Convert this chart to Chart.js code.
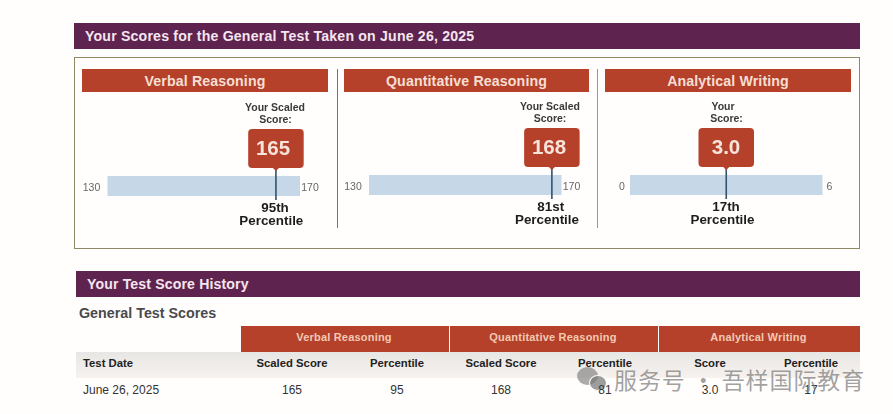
<!DOCTYPE html>
<html><head><meta charset="utf-8">
<script src="https://cdn.jsdelivr.net/npm/chart.js@4"></script>
<style>
html,body{margin:0;padding:0;background:#fffefd;overflow:hidden}
#page{position:relative;width:893px;height:414px;font-family:"Liberation Sans",Arial,sans-serif;overflow:hidden}
.b{position:absolute}
.t{position:absolute;white-space:nowrap;line-height:1}
.c{transform:translateX(-50%)}
canvas{display:block}
</style></head><body><div id="page"></div>
<script>
const pageTitle = "Your Scores for the General Test Taken on June 26, 2025";
const historyTitle = "Your Test Score History";
const tableTitle = "General Test Scores";
const sections = ["Verbal Reasoning", "Quantitative Reasoning", "Analytical Writing"];
const scaleMin = [130, 130, 0];
const scaleMax = [170, 170, 6];
const scores = [165, 168, 3.0];
const scoreText = ["165", "168", "3.0"];
const percentiles = [95, 81, 17];
const percentileText = ["95th", "81st", "17th"];
const scoreCaption = [["Your Scaled", "Score:"], ["Your Scaled", "Score:"], ["Your", "Score:"]];
const tableColumns = ["Test Date", "Scaled Score", "Percentile", "Scaled Score", "Percentile", "Score", "Percentile"];
const tableRow = ["June 26, 2025", "165", "95", "168", "81", "3.0", "17"];
const watermark = "服务号 · 吾样国际教育";

const page = document.getElementById('page');
function box(x,y,w,h,bg,extra){const d=document.createElement('div');d.className='b';
  d.style.cssText=`left:${x}px;top:${y}px;width:${w}px;height:${h}px;background:${bg};${extra||''}`;page.appendChild(d);return d;}
function text(s,x,cy,size,color,bold,center,extra){const d=document.createElement('div');d.className='t'+(center?' c':'');
  d.textContent=s;d.style.cssText=`left:${x}px;top:${cy-size/2}px;font-size:${size}px;color:${color};font-weight:${bold?700:400};${extra||''}`;page.appendChild(d);return d;}

const PURPLE='#5f2350', RED='#b5412b', BAND='#c6d8e8', LINE='#33536b';
// page banners
box(74,23,786,26,PURPLE);
text(pageTitle,85,36,14.1,'#f4e6ee',true,false,'letter-spacing:.2px');
box(74,57,784,190,'transparent','border:1px solid #8f8a63;box-sizing:content-box');
box(337,69,1,159,'#77756c'); box(597,69,1,159,'#9b9a92');

const headX=[82,343.5,605];
sections.forEach((s,i)=>{box(headX[i],69,245.5,23,RED);
  text(s,headX[i]+123,81,14.2,'#f6dfd2',true,true,'letter-spacing:.12px');});

// gauges
const canvasLeft=[80,342,603], bandLeft=[107.5,369,630], canvasTop=[100,99,99];
const captionCx=[275,550,723], caption2Cx=[275.5,550,726.5], ordCx=[275,550.7,726], pctCx=[271.3,547,722.5], textCx=[273,549,726];
const W=255,H=130,BW=192.5;
function gaugePlugin(i){return {id:'gauge'+i,afterDatasetsDraw(ch){
  const ctx=ch.ctx,xs=ch.scales.x,ys=ch.scales.y;
  const mx=xs.getPixelForValue(scores[i]),by=ys.getPixelForValue(0),off=canvasLeft[i];
  ctx.save();ctx.textAlign='center';ctx.textBaseline='middle';
  // callout
  const top=by-57,hgt=39,w=55.5;
  ctx.fillStyle=RED;ctx.beginPath();ctx.roundRect(mx-w/2,top,w,hgt,4);ctx.fill();
  ctx.beginPath();ctx.moveTo(mx-3,top+hgt);ctx.lineTo(mx+3,top+hgt);ctx.lineTo(mx,top+hgt+3);ctx.fill();
  ctx.fillStyle='#f8e4da';ctx.font='700 20.5px "Liberation Sans"';
  ctx.fillText(scoreText[i],textCx[i]-off,top+hgt/2+.5);
  // caption
  ctx.fillStyle='#3a3a3a';ctx.font='700 10.5px "Liberation Sans"';
  ctx.fillText(scoreCaption[i][0],captionCx[i]-off,by-78);
  ctx.fillText(scoreCaption[i][1],caption2Cx[i]-off,by-66);
  // percentile
  ctx.fillStyle='#1d1d1d';ctx.font='700 13.4px "Liberation Sans"';
  ctx.fillText(percentileText[i],ordCx[i]-off,by+22);
  ctx.fillText('Percentile',pctCx[i]-off,by+35);
  // scale ends
  ctx.fillStyle='#666';ctx.font='10.5px "Liberation Sans"';
  ctx.fillText(String(scaleMin[i]),xs.getPixelForValue(scaleMin[i])-(i==2?8:16),by+2);
  ctx.fillText(String(scaleMax[i]),xs.getPixelForValue(scaleMax[i])+(i==2?7:10),by+2);
  ctx.restore();
}};}
sections.forEach((s,i)=>{
  const wrap=box(canvasLeft[i],canvasTop[i],W,H,'transparent');
  const cv=document.createElement('canvas');cv.width=W;cv.height=H;wrap.appendChild(cv);
  const pl=bandLeft[i]-canvasLeft[i];
  new Chart(cv,{type:'scatter',
    data:{datasets:[
      {label:'marker',order:0,showLine:true,pointRadius:0,borderColor:LINE,borderWidth:1.6,clip:false,
       data:[{x:scores[i],y:1.8},{x:scores[i],y:-1.4}]},
      {label:'range',order:1,showLine:true,pointRadius:0,borderColor:BAND,borderWidth:20,borderCapStyle:'butt',clip:false,
       data:[{x:scaleMin[i],y:0},{x:scaleMax[i],y:0}]}
    ]},
    options:{responsive:false,animation:false,events:[],
      layout:{padding:{left:pl,right:W-pl-BW,top:66,bottom:H-106}},
      plugins:{legend:{display:false},tooltip:{enabled:false}},
      scales:{x:{type:'linear',display:false,min:scaleMin[i],max:scaleMax[i]},
              y:{type:'linear',display:false,min:-2,max:2}}},
    plugins:[gaugePlugin(i)]});
});

// history
box(76,271,784,26,PURPLE);
text(historyTitle,87,284,14.1,'#f4e6ee',true,false,'letter-spacing:.14px');
text(tableTitle,79,313,14.3,'#4a4a4e',true,false);
const thX=[241,450,659],thW=[208,208,201];
sections.forEach((s,i)=>{box(thX[i],326,thW[i],26,RED);
  text(s,thX[i]+thW[i]/2-1,337.5,11,'#f3c9b2',true,true,'letter-spacing:.2px');});
box(76,352,784,26,'linear-gradient(#e8e6e4,#f7f2ee)');

// watermark icon sits under the table text
const wm='rgba(120,120,120,.62)';
box(577,367,21,18,wm,'border-radius:50%');
box(589,375,18,16,'rgba(120,120,120,.72)','border-radius:50%;border:1px solid #fffefd;box-sizing:border-box');

const colX=[83,292,397,501,605,710,811];
tableColumns.forEach((c,i)=>text(c,colX[i],364,11.3,'#222',true,i>0));
tableRow.forEach((c,i)=>text(c,colX[i],390,12,'#333',false,i>0));
text(watermark,614,379,23,'rgba(125,125,125,.72)',false,false,'font-family:"Noto Sans CJK SC";letter-spacing:.9px');
</script></body></html>
